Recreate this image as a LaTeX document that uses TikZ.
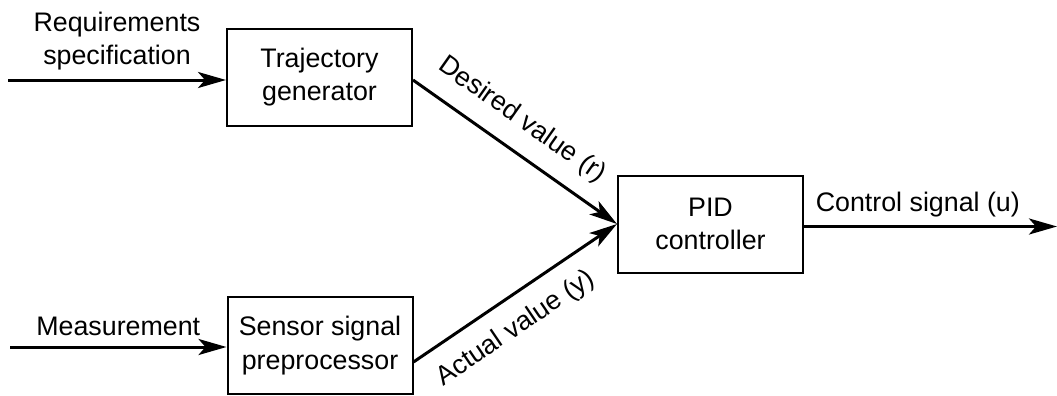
\documentclass[tikz,border=0pt]{standalone}
\usepackage{fontspec}
\setmainfont{Liberation Sans}
\usetikzlibrary{arrows.meta,calc}
\begin{document}
\begin{tikzpicture}[x=0.5pt,y=-0.5pt,
  font=\fontsize{13.4pt}{16.6pt}\selectfont,
  block/.style={draw,line width=1pt,minimum width=92.5pt,minimum height=48.5pt,align=center,inner sep=0pt},
  flow/.style={line width=1.5pt,-{Stealth[length=14pt,width=8pt,inset=3.5pt]}},
  lbl/.style={align=center,inner sep=3pt}]
  \useasboundingbox (0,0) rectangle (1057,396);
  % blocks
  \node[block] (traj) at (319.5,77) {Trajectory\\generator};
  \node[block] (sens) at (320,345.5) {Sensor signal\\preprocessor};
  \node[block] (pid) at (710.5,224) {PID\\controller};
  % free ends of the external signals
  \coordinate (req) at (8,80);
  \coordinate (meas) at (10,347);
  \coordinate (out) at (1057,226.5);
  % connectors
  \draw[flow] (req) -- node[lbl,above,yshift=1pt] {Requirements\\specification} ($(traj.west)+(0,3)$);
  \draw[flow] (meas) -- node[lbl,above,yshift=2pt] {Measurement} ($(sens.west)+(0,1.5)$);
  \draw[flow] ($(traj.east)+(0,3)$) -- node[lbl,above=5pt,sloped,pos=0.45] {Desired value (r)} (pid.west);
  \draw[flow] ($(sens.east)+(0,16.5)$) -- node[lbl,below=5pt,sloped,pos=0.42] {Actual value (y)} (pid.west);
  \draw[flow] ($(pid.east)+(0,2.5)$) -- node[lbl,above,pos=0.45,yshift=1pt] {Control signal (u)} (out);
\end{tikzpicture}
\end{document}
